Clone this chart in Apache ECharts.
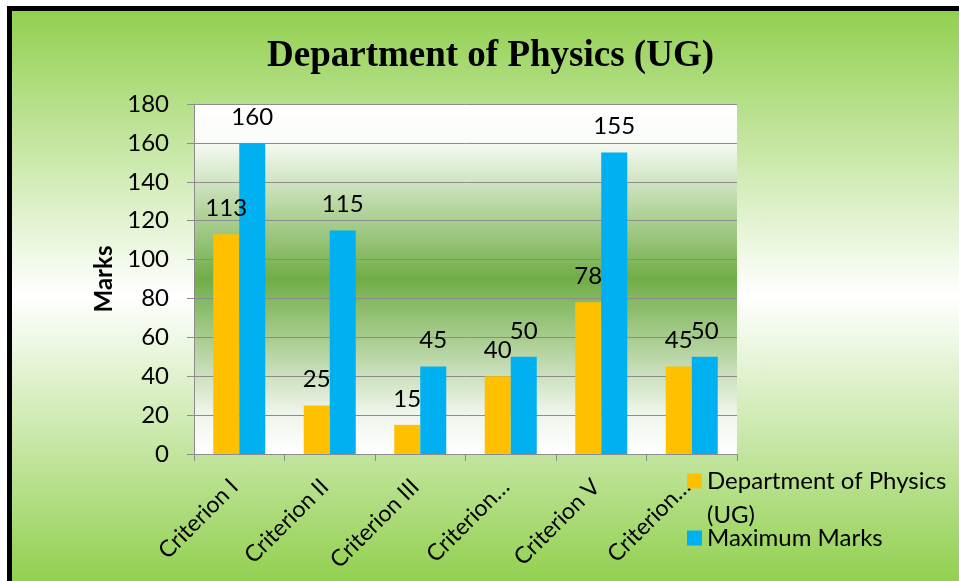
<!DOCTYPE html>
<html lang="en">
<head>
    <meta charset="UTF-8">
    <title>Department of Physics (UG)</title>
    <script src="https://cdn.jsdelivr.net/npm/echarts@6/dist/echarts.min.js"></script>
    <style>
        html, body { margin: 0; padding: 0; background: #fff; }
        #frame {
            position: absolute; left: 7px; top: 6px; width: 952px; height: 575px;
            box-sizing: border-box;
            border-top: 5px solid #000; border-left: 5px solid #000;
            background: linear-gradient(to bottom, #92d050 0%, #ffffff 50%, #92d050 100%);
        }
        #main { position: absolute; left: 0; top: 0; width: 959px; height: 581px; }
    </style>
</head>
<body>
<div id="frame"></div>
<div id="main"></div>
<script>
    var categories = ['Criterion I', 'Criterion II', 'Criterion III', 'Criterion IV', 'Criterion V', 'Criterion VI'];
    var tickLabels = ['Criterion I', 'Criterion II', 'Criterion III', 'Criterion\u2026', 'Criterion V', 'Criterion\u2026'];
    var deptMarks = [113, 25, 15, 40, 78, 45];
    var maxMarks = [160, 115, 45, 50, 155, 50];
    var seriesNames = ['Department of Physics (UG)', 'Maximum Marks'];

    var font = 'Lato';
    var fs = 24;
    var labelStyle = { show: true, position: 'top', distance: 14, color: '#000', fontFamily: font, fontSize: fs };

    var myoption = {
        backgroundColor: 'transparent',
        animation: false,
        title: {
            text: 'Department of Physics (UG)',
            left: 262,
            top: 33,
            textStyle: { fontFamily: 'Liberation Serif', fontWeight: 'bold', fontSize: 37, color: '#000' }
        },
        legend: [
            {
                data: [seriesNames[0]],
                left: 682, top: 459,
                itemWidth: 15, itemHeight: 49,
                // square sits at the top so it lines up with the first text line
                icon: 'path://M0,0h15v15h-15z M0,49h0.01v0.01h-0.01z',
                formatter: function () { return 'Department of Physics\n(UG)'; },
                textStyle: { fontFamily: font, fontSize: fs, color: '#000', lineHeight: 34 }
            },
            {
                data: [seriesNames[1]],
                left: 682, top: 521,
                itemWidth: 15, itemHeight: 15,
                icon: 'rect',
                textStyle: { fontFamily: font, fontSize: fs, color: '#000' }
            }
        ],
        grid: {
            left: 194, right: 222, top: 104, bottom: 127,
            containLabel: false,
            show: true,
            borderWidth: 0,
            backgroundColor: new echarts.graphic.LinearGradient(0, 0, 0, 1, [
                { offset: 0, color: '#ffffff' },
                { offset: 0.1, color: '#fafcf8' },
                { offset: 0.5, color: '#70ad47' },
                { offset: 0.88, color: '#eef4ea' },
                { offset: 1, color: '#ffffff' }
            ])
        },
        xAxis: {
            type: 'category',
            data: categories,
            axisLine: { lineStyle: { color: '#8c8c8c', width: 1 } },
            axisTick: { show: true, length: 7, lineStyle: { color: '#8c8c8c' } },
            axisLabel: {
                rotate: 45, margin: 24, color: '#000', fontFamily: font, fontSize: 23,
                padding: [0, 7, 0, 0],
                interval: 0,
                formatter: function (v, i) { return tickLabels[i]; }
            }
        },
        yAxis: {
            type: 'value',
            min: 0, max: 180, interval: 20,
            name: 'Marks',
            nameLocation: 'middle',
            nameRotate: 90,
            nameGap: 78,
            nameTextStyle: { fontFamily: font, fontWeight: 'bold', fontSize: fs, color: '#000' },
            axisLine: { show: true, lineStyle: { color: '#8c8c8c', width: 1 } },
            axisTick: { show: true, length: 7, lineStyle: { color: '#8c8c8c' } },
            axisLabel: { margin: 25, color: '#000', fontFamily: font, fontSize: fs },
            splitLine: { show: true, lineStyle: { color: '#8c8c8c', width: 1 } }
        },
        series: [
            {
                name: seriesNames[0],
                type: 'bar',
                data: deptMarks,
                barWidth: 26,
                barGap: '0%',
                itemStyle: { color: '#ffc000' },
                label: labelStyle
            },
            {
                name: seriesNames[1],
                type: 'bar',
                data: maxMarks,
                barWidth: 26,
                barGap: '0%',
                itemStyle: { color: '#00b0f0' },
                label: labelStyle
            }
        ]
    };
    var myChart = echarts.init(document.getElementById('main'));
    myChart.setOption(myoption);
</script>
</body>
</html>
